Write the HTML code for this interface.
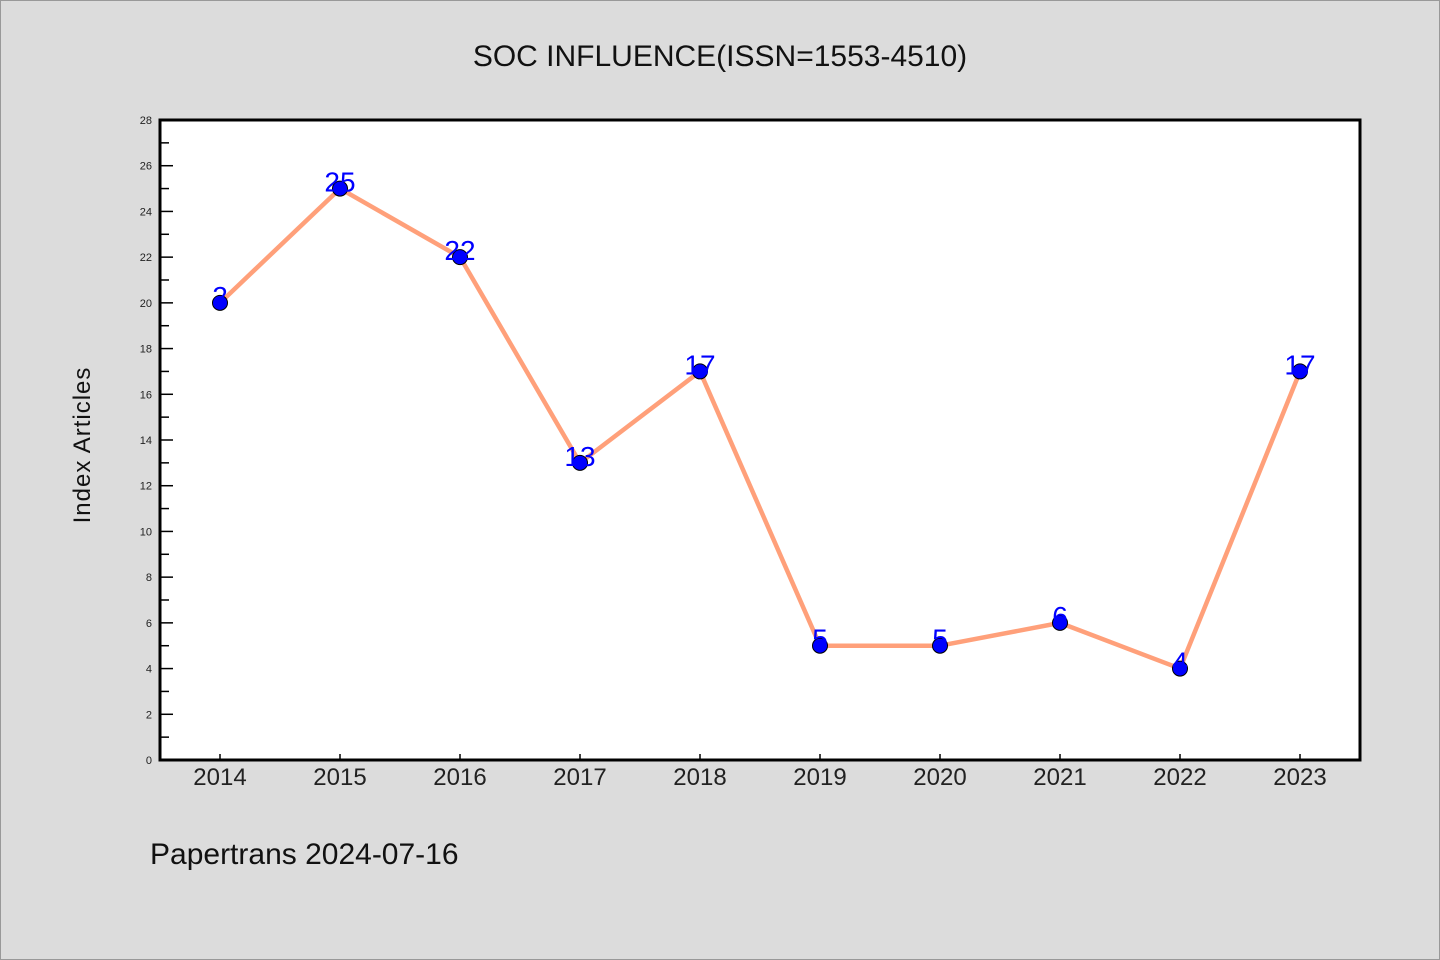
<!DOCTYPE html>
<html><head><meta charset="utf-8"><style>
body{margin:0;background:#dcdcdc;}
svg{display:block;font-family:"WenQuanYi Zen Hei","Liberation Sans",sans-serif;}
</style></head><body>
<svg width="1440" height="960" xmlns="http://www.w3.org/2000/svg">
<rect x="0.5" y="0.5" width="1439" height="959" fill="#dcdcdc" stroke="#999"/>
<text x="720" y="66" text-anchor="middle" font-size="30" fill="#111">SOC INFLUENCE(ISSN=1553-4510)</text>
<rect x="160" y="120" width="1200" height="640" fill="#fff"/>
<g id="ticks"></g>
<g id="series"></g>
<rect x="160" y="120" width="1200" height="640" fill="none" stroke="#000" stroke-width="3"/>
<text transform="translate(90,445) rotate(-90)" text-anchor="middle" font-size="24" fill="#111" letter-spacing="1">Index Articles</text>
<text x="150" y="864" font-size="30" fill="#111">Papertrans 2024-07-16</text>
</svg>
<script>
const categories=["2014","2015","2016","2017","2018","2019","2020","2021","2022","2023"];
const values=[20,25,22,13,17,5,5,6,4,17];
const pointLabels=["2","25","22","13","17","5","5","6","4","17"];
const yTicks=[0,2,4,6,8,10,12,14,16,18,20,22,24,26,28];
const NS="http://www.w3.org/2000/svg";
const x0=160,y0=760,H=640,yMax=28;
const xs=i=>220+i*120;
const ys=v=>y0-v/yMax*H;
function mk(t,a,p){const e=document.createElementNS(NS,t);for(const k in a)e.setAttribute(k,a[k]);p.appendChild(e);return e;}
const tg=document.getElementById('ticks');
yTicks.forEach(v=>{
 const y=ys(v);
 const l=mk('line',{x1:160,x2:173,y1:y,y2:y,stroke:'#000','stroke-width':1.5},tg);
 
 
 const t=mk('text',{x:152,y:y+4,'text-anchor':'end','font-size':11,fill:'#222'},tg);
 
 
 t.textContent=v;
 if(v<yMax){const ym=ys(v+1);
  const m=mk('line',{x1:160,x2:169,y1:ym,y2:ym,stroke:'#000','stroke-width':1.5},tg);
  
  }
});
categories.forEach((c,i)=>{
 const x=xs(i);
 const l=mk('line',{x1:x,x2:x,y1:760,y2:754,stroke:'#000','stroke-width':1.5},tg);
 
 
 const t=mk('text',{x:x,y:785,'text-anchor':'middle','font-size':24,fill:'#222'},tg);
 
 
 t.textContent=c;
});
const sg=document.getElementById('series');
const pl=mk('polyline',{points:values.map((v,i)=>xs(i)+','+ys(v)).join(' '),fill:'none',stroke:'#ffa07a','stroke-width':4.5,'stroke-linejoin':'round'},sg);


values.forEach((v,i)=>{
 const c=mk('circle',{cx:xs(i),cy:ys(v),r:7.5,fill:'#0000ff',stroke:'#000','stroke-width':1},sg);
 
 
 const t=mk('text',{x:xs(i),y:ys(v)+3,'text-anchor':'middle','font-size':28,fill:'#0000ff','font-family':'"Liberation Sans",sans-serif'},sg);
 
 
 t.textContent=pointLabels[i];
});
</script>
</body></html>
